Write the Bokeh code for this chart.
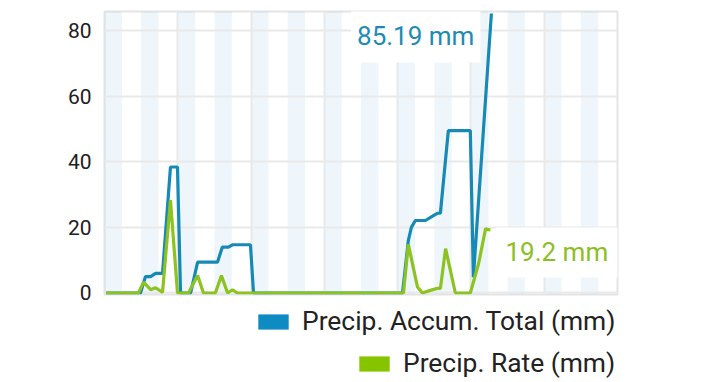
from bokeh.plotting import figure
from bokeh.models import Range1d, FixedTicker, Legend, LegendItem, Label, Grid
from bokeh.layouts import column
from bokeh.embed import file_html
from bokeh.resources import INLINE

# ---- data (hours since start of window) ----
accum_hours = [0.5, 11.8, 13.4, 15.1, 16.7, 19.0, 21.6, 23.9, 24.9, 28.2, 30.5, 37.0,
               38.6, 40.6, 41.9, 47.8, 48.8, 97.6, 99.5, 100.5, 101.8, 105.1, 107.7,
               109.0, 110.0, 112.6, 119.8, 120.8, 126.7]
accum_total = [0, 0, 5, 5, 6, 6, 38.4, 38.4, 0, 0, 9.4, 9.4,
               14, 14, 14.7, 14.7, 0, 0, 16, 20, 22.1, 22.1, 23.6,
               24.3, 24.3, 49.5, 49.5, 4.8, 85.19]

rate_hours = [0.5, 11.1, 12.8, 15.1, 16.7, 17.7, 19.0, 21.6, 23.9, 27.5, 30.5, 32.4,
              36.3, 38.3, 40.3, 41.9, 43.5, 97.9, 99.5, 102.5, 104.1, 106.7, 109.0,
              110.0, 111.7, 114.9, 119.8, 122.5, 124.8, 125.7, 126.4]
precip_rate = [0, 0, 3.3, 1.0, 1.6, 1.0, 0.2, 28.3, 0, 0, 5.3, 0,
               0, 5.3, 0, 1.0, 0, 0, 14.8, 1.8, 0, 0.8, 1.4,
               1.4, 13.5, 0, 0, 8.9, 19.6, 19.3, 19.2]

y_ticks = [0, 20, 40, 60, 80]
day_ticks = [0, 24, 48, 72, 96, 120, 144, 168]
band_starts = list(range(0, 168, 12))
band_len = 5.7

series_names = ["Precip. Accum. Total (mm)", "Precip. Rate (mm)"]

BLUE = "#1789b5"
BLUE_KEY = "#0e8bc3"
GREEN = "#8cc320"
GREEN_KEY = "#87c400"
FONT = "Roboto"

y0, y1 = -0.46, 85.8

p = figure(width=712, height=306, x_range=Range1d(0, 168), y_range=Range1d(y0, y1),
           output_backend="svg", toolbar_location=None, x_axis_location=None,
           min_border_left=104, min_border_right=95, min_border_top=11, min_border_bottom=12)
p.background_fill_color = "white"
p.border_fill_color = "white"
p.outline_line_color = "#e4e4e4"
p.outline_line_width = 2

for g in p.grid:
    g.visible = False
p.add_layout(Grid(dimension=0, ticker=FixedTicker(ticks=day_ticks),
                  grid_line_color="#e9e9e9", grid_line_width=2), "center")
p.add_layout(Grid(dimension=1, ticker=FixedTicker(ticks=y_ticks),
                  grid_line_color="#e9e9e9", grid_line_width=2), "center")

ax = p.yaxis[0]
ax.ticker = FixedTicker(ticks=y_ticks)
ax.axis_line_color = None
ax.major_tick_line_color = None
ax.minor_tick_line_color = None
ax.major_tick_out = 0
ax.major_tick_in = 0
ax.major_label_standoff = 13
ax.major_label_text_font = FONT
ax.major_label_text_font_size = "21px"
ax.major_label_text_color = "#202020"

# shaded bands
p.quad(left=band_starts, right=[s + band_len for s in band_starts],
       bottom=y0, top=y1, fill_color="#1e82d2", fill_alpha=0.075,
       line_color=None, level="underlay")

p.line(accum_hours, accum_total, line_color=BLUE, line_width=3.2)
p.line(rate_hours, precip_rate, line_color=GREEN, line_width=3.2)

# last-value labels
lab1 = Label(x=accum_hours[-1], y=accum_total[-1], x_offset=-11, y_offset=-22,
             text=f"{accum_total[-1]:.2f} mm", text_align="right", text_baseline="middle",
             text_font=FONT, text_font_size="26px", text_color="#1f8ab3",
             background_fill_color="white", padding=(6, 12))
lab2 = Label(x=rate_hours[-1], y=precip_rate[-1], x_offset=5, y_offset=-22.5,
             text=f"{precip_rate[-1]:.1f} mm", text_align="left", text_baseline="middle",
             text_font=FONT, text_font_size="26px", text_color="#8bbf25",
             background_fill_color="white", padding=(10, 10))
p.add_layout(lab1)
p.add_layout(lab2)

# legend strip
q = figure(width=712, height=76, x_range=Range1d(0, 168), y_range=Range1d(y0, y1),
           output_backend="svg", toolbar_location=None, x_axis_location=None,
           y_axis_location=None, min_border=0)
q.outline_line_color = None
q.background_fill_color = "white"
q.border_fill_color = "white"
for g in q.grid:
    g.visible = False
k1 = q.varea(x=accum_hours, y1=accum_total, y2=accum_total, fill_color=BLUE_KEY)
k2 = q.varea(x=rate_hours, y1=precip_rate, y2=precip_rate, fill_color=GREEN_KEY)

def make_legend(name, r, loc):
    return Legend(items=[LegendItem(label=name, renderers=[r])], location=loc,
                  padding=0, margin=0, spacing=0, glyph_width=38, glyph_height=19,
                  label_standoff=10, label_text_font=FONT, label_text_font_size="26.4px",
                  label_text_line_height=1.0,
                  label_text_color="#222222", border_line_color=None,
                  background_fill_alpha=0)

q.add_layout(make_legend(series_names[0], k1, (150, 46)), "center")
q.add_layout(make_legend(series_names[1], k2, (251, 4)), "center")

layout = column(p, q, spacing=0)
open("out.html", "w").write(file_html(layout, INLINE))
